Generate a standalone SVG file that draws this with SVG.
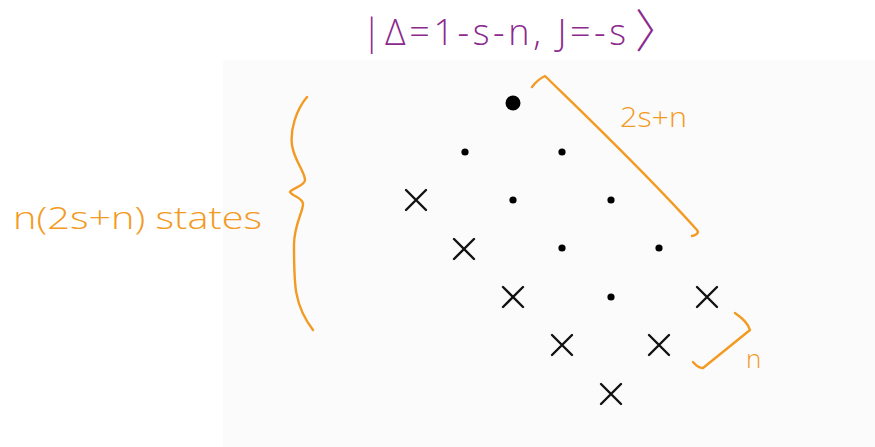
<svg xmlns="http://www.w3.org/2000/svg" width="875" height="447" viewBox="0 0 875 447">
<style>
.dot{fill:#000}
.x{stroke:#111;stroke-width:2.4;stroke-linecap:round;fill:none}
.br{stroke:#f39a22;stroke-width:2.4;stroke-linecap:round;stroke-linejoin:round;fill:none}
.ot{fill:#f39a22;font-family:"Open Sans","Liberation Sans","DejaVu Sans",sans-serif;font-weight:300}
.pt{fill:#8b2a8d;font-family:"Open Sans","DejaVu Sans","Liberation Sans",sans-serif;font-weight:300}
.ang{font-family:"Noto Sans CJK SC",sans-serif;font-weight:300}
</style>
<defs>
<path id="cross" d="M-10,-10 L10,10 M10,-10 L-10,10"/>
</defs>
<rect x="223" y="60" width="652" height="387" fill="#fbfbfb"/>
<text class="pt" x="362" y="45" font-size="36"><tspan textLength="264" lengthAdjust="spacing">|Δ=1-s-n, J=-s</tspan><tspan class="ang" x="635" y="47" font-size="46">〉</tspan></text>
<g id="states">
<g id="top-state"><circle class="dot" cx="513" cy="103" r="7.5"/></g>
<g id="dots">
<circle class="dot" cx="465" cy="152" r="3.6"/>
<circle class="dot" cx="562" cy="152" r="3.6"/>
<circle class="dot" cx="513" cy="200" r="3.6"/>
<circle class="dot" cx="611" cy="200" r="3.6"/>
<circle class="dot" cx="562" cy="248" r="3.6"/>
<circle class="dot" cx="659" cy="248" r="3.6"/>
<circle class="dot" cx="611" cy="297" r="3.6"/>
</g>
<g id="crosses" class="x">
<use href="#cross" x="416" y="200"/>
<use href="#cross" x="464" y="249"/>
<use href="#cross" x="513" y="297"/>
<use href="#cross" x="707" y="297"/>
<use href="#cross" x="562" y="345"/>
<use href="#cross" x="659" y="345"/>
<use href="#cross" x="611" y="394"/>
</g>
</g>
<g id="connectors">
<path class="br" d="M307,97 C296,110 290,130 292,145 C294,160 305,172 305,180 C305,186 292,188 290,192 C292,196 303,198 303,204 C303,212 294,225 294,245 C294,285 294,305 313,330"/>
<path class="br" d="M532,87 Q538,79 545,76 C585,115 645,172 697,230 Q700,234 692,236"/>
<path class="br" d="M735,313 Q748,322 750,330 L703,368 Q698,368 693,362"/>
</g>
<text class="ot" x="13" y="229" font-size="32" textLength="249" lengthAdjust="spacingAndGlyphs">n(2s+n) states</text>
<text class="ot" x="620" y="127" font-size="27" textLength="67" lengthAdjust="spacingAndGlyphs">2s+n</text>
<text class="ot" x="746" y="368" font-size="26">n</text>
</svg>
